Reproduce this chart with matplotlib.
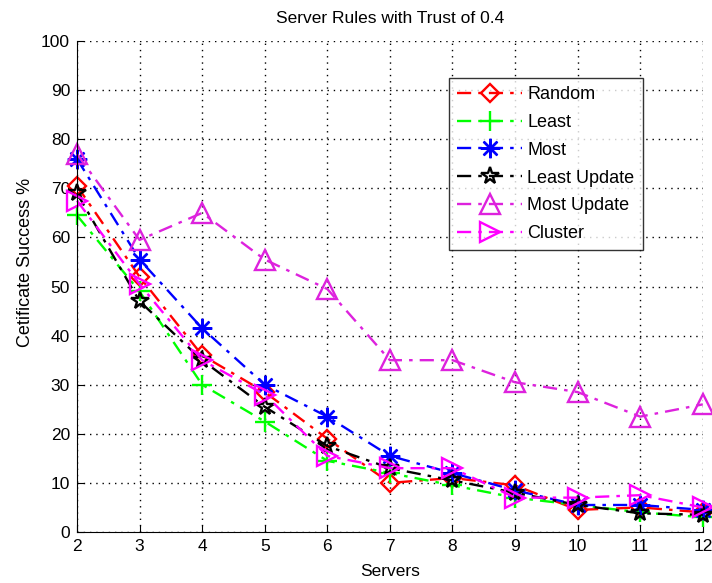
import numpy as np
import matplotlib
matplotlib.use("Agg")
import matplotlib.pyplot as plt

plt.rcParams['font.family'] = ['Liberation Sans', 'DejaVu Sans']

# Data
servers = [2, 3, 4, 5, 6, 7, 8, 9, 10, 11, 12]
random_rule = [70.5, 52, 36, 28.5, 19, 10, 11, 9.5, 4.5, 5, 4]
least = [64.5, 49, 30, 22.5, 14.5, 12, 9.5, 7, 5.5, 4, 3]
most = [76, 55.5, 41.5, 30, 23.5, 15.5, 12, 8.5, 5.5, 5.5, 4.5]
least_update = [69, 47, 35, 25.5, 17.5, 13, 10.5, 8, 5.5, 3.8, 3.5]
most_update = [77, 59.5, 65, 55.5, 49.5, 35, 35, 30.5, 28.5, 23.5, 26]
cluster = [67.5, 50.5, 35, 28, 15.5, 13, 13, 7, 7, 7.5, 5]

series = [
    ("Random", random_rule, "red", "D", 9),
    ("Least", least, "#00ff00", "+", 14),
    ("Most", most, "blue", (8, 2, 0), 14),
    ("Least Update", least_update, "black", "*", 13),
    ("Most Update", most_update, "#dd22dd", "^", 15),
    ("Cluster", cluster, "magenta", ">", 15),
]

fig = plt.figure(figsize=(7.12, 5.83), dpi=100)
ax = fig.add_axes([0.1081, 0.0875, 0.879, 0.842])

for name, vals, color, marker, ms in series:
    ax.plot(servers, vals, linestyle=(0, (6, 3, 1.5, 3)), color=color, linewidth=1.7,
            marker=marker, markersize=ms, markerfacecolor="none",
            markeredgecolor=color, markeredgewidth=1.7, label=name,
            clip_on=False)

ax.set_xlim(2, 12)
ax.set_ylim(0, 100)
ax.set_xticks(servers)
ax.set_yticks(np.arange(0, 101, 10))
ax.grid(True, linestyle=(0, (1, 3.5)), color="black", linewidth=1)
ax.spines["top"].set_visible(False)
ax.spines["right"].set_visible(False)
ax.tick_params(direction="in", labelsize=12.5, length=5, top=False, right=False)
ax.tick_params(axis="x", pad=5)
ax.tick_params(axis="y", pad=5)
ax.set_title("Server Rules with Trust of 0.4", fontsize=12.5, pad=13)
ax.set_xlabel("Servers", fontsize=12.5, labelpad=7)
ax.set_ylabel("Cetificate Success %", fontsize=13)
ax.yaxis.set_label_coords(-0.069, 0.55)

leg = ax.legend(loc="upper right", bbox_to_anchor=(0.904, 0.925), fontsize=13,
                frameon=True, fancybox=False, edgecolor="black",
                handlelength=3.6, borderpad=0.45, labelspacing=0.6,
                handletextpad=0.3, borderaxespad=0)
leg.get_frame().set_linewidth(1)

fig.savefig("out.png", dpi=100)
